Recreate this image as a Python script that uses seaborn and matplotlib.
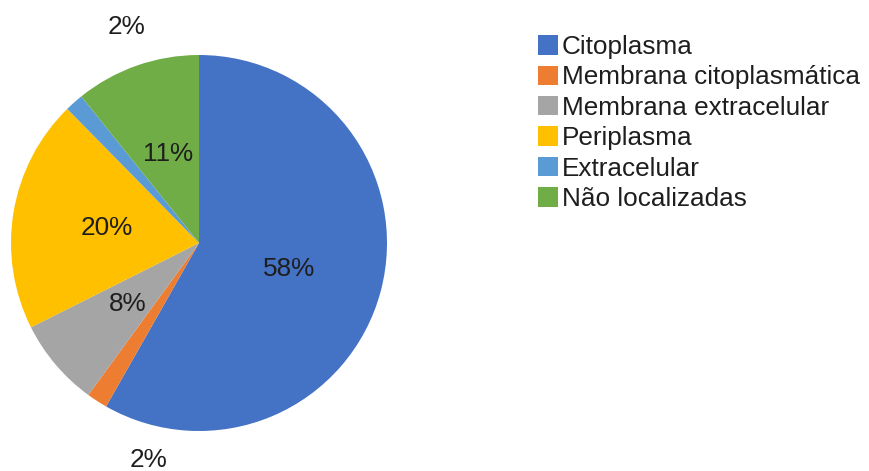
import matplotlib
matplotlib.use("Agg")
import matplotlib.pyplot as plt
import seaborn as sns

categories = ["Citoplasma", "Membrana citoplasmática", "Membrana extracelular",
              "Periplasma", "Extracelular", "Não localizadas"]
values = [58.4, 1.8, 7.6, 20.1, 1.6, 10.8]
colors = ["#4472C4", "#ED7D31", "#A5A5A5", "#FFC000", "#5B9BD5", "#70AD47"]

sns.set_theme(style="white")
plt.rcParams["font.family"] = ["Liberation Sans", "DejaVu Sans"]

W, H = 869, 471
fig = plt.figure(figsize=(W / 100, H / 100), dpi=100)
cx, cy, r = 199, 243, 188
ax = fig.add_axes([(cx - r) / W, (H - cy - r) / H, 2 * r / W, 2 * r / H])

FS = 18.8
wedges, texts, autotexts = ax.pie(
    values, colors=colors, startangle=90, counterclock=False,
    autopct=lambda p: f"{p:.0f}%", pctdistance=0.5, radius=1,
    textprops=dict(fontsize=FS, color="#1e1e1e"),
    wedgeprops=dict(linewidth=0),
)
ax.set_xlim(-1, 1)
ax.set_ylim(-1, 1)
ax.set_aspect("equal")
ax.axis("off")

# outside labels for small slices
autotexts[1].set_position((-0.271, -1.154))
autotexts[4].set_position((-0.388, 1.149))
autotexts[0].set_position((0.477, -0.14))
for t in autotexts:
    t.set_ha("center")
    t.set_va("center")

leg = fig.legend(wedges, categories, loc="upper left",
                 bbox_to_anchor=(538 / W, 1 - 35 / H), frameon=False,
                 fontsize=FS, handlelength=0.77, handleheight=0.77,
                 handletextpad=0.15, labelspacing=0.245, borderaxespad=0,
                 borderpad=0)
for t in leg.get_texts():
    t.set_color("#1e1e1e")

fig.savefig("out.png", dpi=100)
